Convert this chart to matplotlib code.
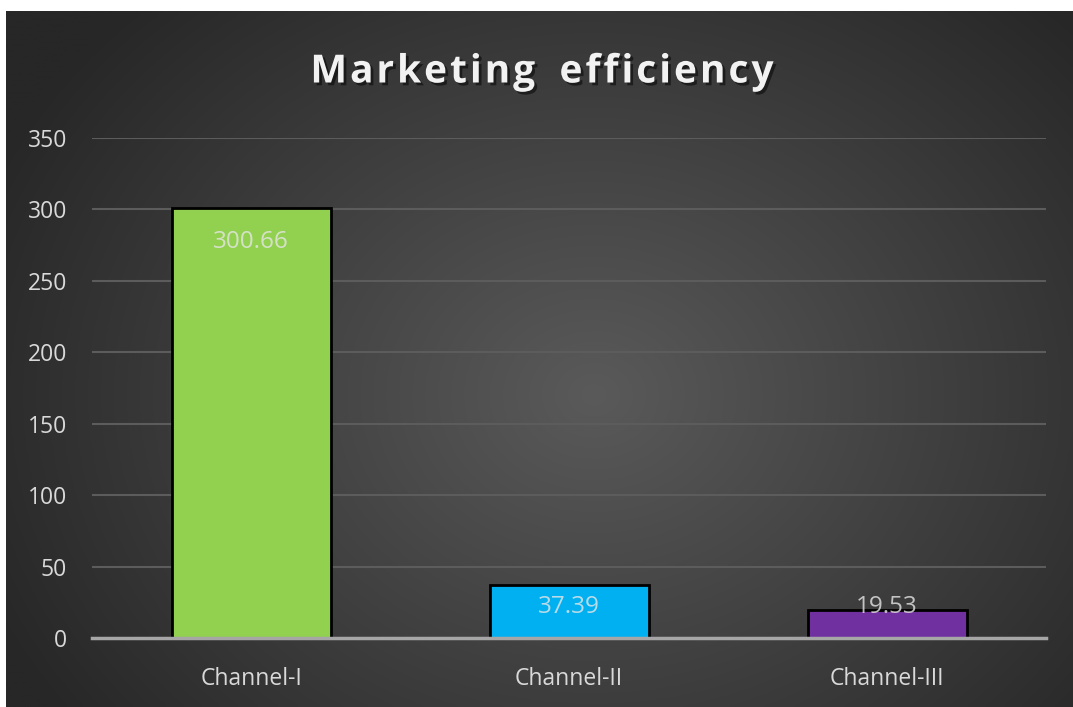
import numpy as np
import matplotlib
matplotlib.use("Agg")
import matplotlib.pyplot as plt
import matplotlib.patheffects as pe

categories = ["Channel-I", "Channel-II", "Channel-III"]
values = [300.66, 37.39, 19.53]
colors = ["#92D050", "#00B0F0", "#7030A0"]
yticks = [0, 50, 100, 150, 200, 250, 300, 350]
title = "Marketing  efficiency"

W, H = 1073, 707
fig = plt.figure(figsize=(W / 100, H / 100), dpi=100)
fig.patch.set_facecolor("white")

# background panel with radial gradient
x0 = 6 / W
bg = fig.add_axes([x0, 0, 1 - x0, 1 - 11 / H])
ny, nx = 300, 450
yy, xx = np.mgrid[0:ny, 0:nx]
cx, cy = nx * 0.55, ny * 0.55
r = np.sqrt(((xx - cx) / (nx * 0.62)) ** 2 + ((yy - cy) / (ny * 0.78)) ** 2)
r = np.clip(r, 0, 1)
inner = np.array([0x5a, 0x5a, 0x5a]) / 255
outer = np.array([0x27, 0x27, 0x27]) / 255
img = inner[None, None, :] * (1 - r[..., None]) + outer[None, None, :] * r[..., None]
bg.imshow(img, aspect="auto", extent=[0, 1, 0, 1], interpolation="bilinear")
bg.set_axis_off()

ax = fig.add_axes([92 / W, 1 - 638 / H, (1046 - 92) / W, (638 - 138) / H])
ax.patch.set_alpha(0)
x = np.arange(len(categories))
ax.bar(x, values, width=0.5, color=colors, edgecolor="black", linewidth=2, zorder=3)
ax.set_xlim(-0.5, len(categories) - 0.5)
ax.set_ylim(0, 350)
ax.set_yticks(yticks)
ax.yaxis.grid(True, color="#5c5c5c", linewidth=1.5, zorder=0)
ax.set_axisbelow(True)
for s in ["top", "right", "left"]:
    ax.spines[s].set_visible(False)
ax.spines["bottom"].set_color("#a6a6a6")
ax.spines["bottom"].set_linewidth(2.5)
ax.spines["bottom"].set_zorder(4)
ax.tick_params(axis="both", length=0, colors="#d9d9d9", labelsize=16.5)
ax.tick_params(axis="y", pad=18)
ax.tick_params(axis="x", pad=21)
ax.set_xticks(x)
ax.set_xticklabels(categories)
for lab in ax.get_xticklabels() + ax.get_yticklabels():
    lab.set_fontfamily("Open Sans")
    lab.set_color("#d9d9d9")

# data labels: inside end, but not lower than a minimum height above the axis
for xi, v in zip(x, values):
    ly = max(v - 23.5, 21.7)
    ax.text(xi, ly, f"{v:.2f}", ha="center", va="center", color="#e6e6e6", alpha=0.8,
            fontsize=17.5, family="Open Sans", zorder=5)

# letter-spaced title
fig.canvas.draw()
renderer = fig.canvas.get_renderer()
fs = 28
spacing = 3.0  # px
kw = dict(fontsize=fs, fontweight="bold", family="Open Sans", color="#f2f2f2", va="center", ha="left",
          path_effects=[pe.withSimplePatchShadow(offset=(2, -2), shadow_rgbFace="black", alpha=0.5)])
widths = []
for ch in title:
    t = fig.text(0, 0, ch if ch != " " else "n", **kw)
    bb = t.get_window_extent(renderer)
    widths.append(bb.width * (0.3 if ch == " " else 1.0))
    t.remove()
total = sum(widths) + spacing * (len(title) - 1)
xc, yc = 542, H - 72
xpos = xc - total / 2
for ch, w in zip(title, widths):
    if ch != " ":
        fig.text(xpos / W, yc / H, ch, **kw)
    xpos += w + spacing

fig.savefig("out.png", dpi=100, facecolor=fig.get_facecolor())
